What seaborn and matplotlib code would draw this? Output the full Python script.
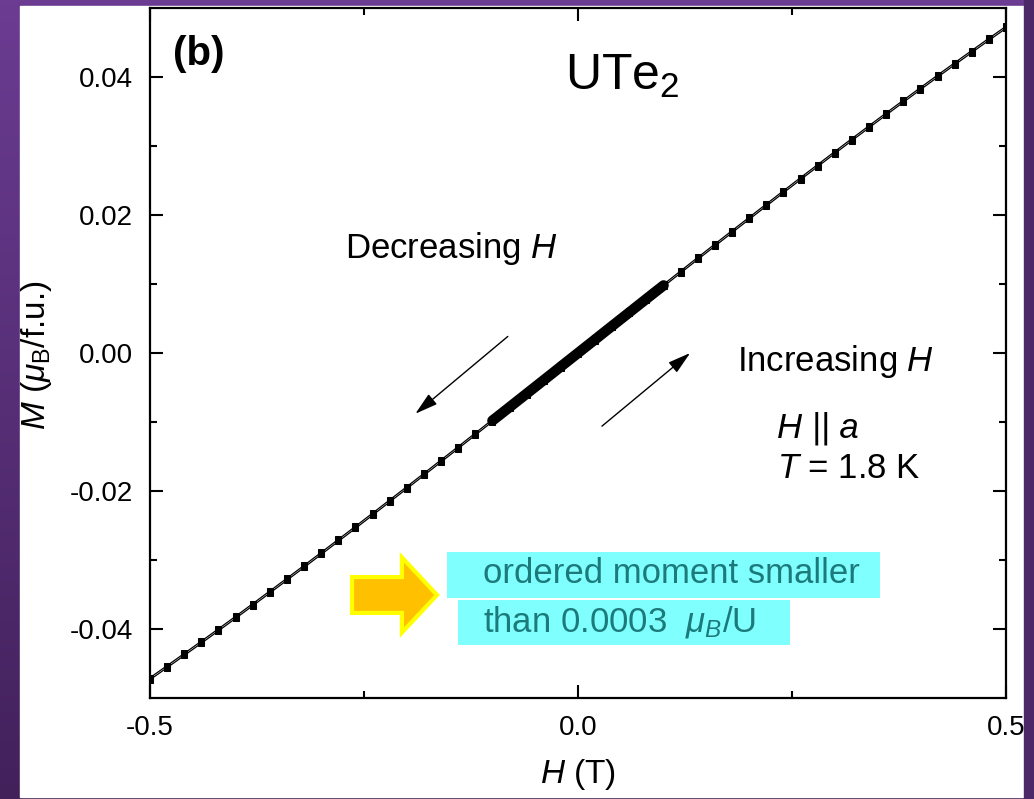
import numpy as np
import seaborn as sns
from matplotlib import pyplot as plt
from matplotlib import patches
from matplotlib.colors import LinearSegmentedColormap
from matplotlib.ticker import FixedLocator, FormatStrFormatter

# field grid (T) and the two sweeps of M (muB/f.u.)
H_sweep = [-0.50, -0.48, -0.46, -0.44, -0.42, -0.40, -0.38, -0.36, -0.34, -0.32,
           -0.30, -0.28, -0.26, -0.24, -0.22, -0.20, -0.18, -0.16, -0.14, -0.12,
           -0.10, -0.08, -0.06, -0.04, -0.02, 0.00, 0.02, 0.04, 0.06, 0.08,
           0.10, 0.12, 0.14, 0.16, 0.18, 0.20, 0.22, 0.24, 0.26, 0.28,
           0.30, 0.32, 0.34, 0.36, 0.38, 0.40, 0.42, 0.44, 0.46, 0.48, 0.50]
M_decreasing = [-0.04705, -0.04531, -0.04354, -0.04176, -0.03997, -0.03816, -0.03633, -0.03449, -0.03264, -0.03078,
                -0.02890, -0.02701, -0.02512, -0.02321, -0.02129, -0.01937, -0.01744, -0.01550, -0.01356, -0.01161,
                -0.00965, -0.00770, -0.00574, -0.00378, -0.00181, 0.00015, 0.00211, 0.00408, 0.00604, 0.00800,
                0.00995, 0.01191, 0.01386, 0.01580, 0.01774, 0.01967, 0.02159, 0.02351, 0.02542, 0.02731,
                0.02920, 0.03108, 0.03294, 0.03479, 0.03663, 0.03846, 0.04027, 0.04206, 0.04384, 0.04561, 0.04735]
M_increasing = [-0.04735, -0.04561, -0.04384, -0.04206, -0.04027, -0.03846, -0.03663, -0.03479, -0.03294, -0.03108,
                -0.02920, -0.02731, -0.02542, -0.02351, -0.02159, -0.01967, -0.01774, -0.01580, -0.01386, -0.01191,
                -0.00995, -0.00800, -0.00604, -0.00408, -0.00211, -0.00015, 0.00181, 0.00378, 0.00574, 0.00770,
                0.00965, 0.01161, 0.01356, 0.01550, 0.01744, 0.01937, 0.02129, 0.02321, 0.02512, 0.02701,
                0.02890, 0.03078, 0.03264, 0.03449, 0.03633, 0.03816, 0.03997, 0.04176, 0.04354, 0.04531, 0.04705]

# dense low-field data
H_low = [-0.10, -0.09, -0.08, -0.07, -0.06, -0.05, -0.04, -0.03, -0.02, -0.01, 0.00,
         0.01, 0.02, 0.03, 0.04, 0.05, 0.06, 0.07, 0.08, 0.09, 0.10]
M_low = [-0.00980, -0.00883, -0.00785, -0.00687, -0.00589, -0.00491, -0.00393, -0.00295, -0.00196, -0.00098, 0.00000,
         0.00098, 0.00196, 0.00295, 0.00393, 0.00491, 0.00589, 0.00687, 0.00785, 0.00883, 0.00980]

x_major = [-0.5, 0.0, 0.5]
x_minor = [-0.25, 0.25]
y_major = [-0.04, -0.02, 0.00, 0.02, 0.04]
y_minor = [-0.03, -0.01, 0.01, 0.03]

sns.set_theme(style="ticks")
plt.rcParams["font.family"] = ["Liberation Sans", "DejaVu Sans"]
plt.rcParams["mathtext.fontset"] = "custom"
plt.rcParams["mathtext.rm"] = "Liberation Sans"
plt.rcParams["mathtext.it"] = "Liberation Sans:italic"
plt.rcParams["mathtext.bf"] = "Liberation Sans:bold"
plt.rcParams["axes.unicode_minus"] = False
plt.rcParams["text.color"] = "black"
plt.rcParams["axes.labelcolor"] = "black"
plt.rcParams["xtick.color"] = "black"
plt.rcParams["ytick.color"] = "black"

fig = plt.figure(figsize=(10.34, 7.99), dpi=100)

# purple slide background with white panel
bg = fig.add_axes([0, 0, 1, 1], zorder=-10)
bg.axis("off")
purple = LinearSegmentedColormap.from_list("purple", ["#6b3c92", "#42215b"])
bg.imshow(np.linspace(0, 1, 256).reshape(-1, 1), cmap=purple, aspect="auto", extent=[0, 1, 0, 1])
bg.add_patch(patches.Rectangle((20 / 1034, 2 / 799), 1004 / 1034, 791 / 799, color="white", transform=bg.transAxes))
bg.set_xlim(0, 1)
bg.set_ylim(0, 1)

ax = fig.add_axes([150 / 1034, 1 - 698 / 799, 856 / 1034, 690 / 799])
ax.set_facecolor("white")

line_kw = dict(color="black", linewidth=0.9, marker="s", markersize=4.5,
               markeredgecolor="black", markerfacecolor="black")
sns.lineplot(x=H_sweep, y=M_decreasing, ax=ax, **line_kw)
sns.lineplot(x=H_sweep, y=M_increasing, ax=ax, **line_kw)
sns.lineplot(x=H_low, y=M_low, ax=ax, color="black", linewidth=7.5)

ax.set_xlim(-0.5, 0.5)
ax.set_ylim(-0.05, 0.05)
ax.xaxis.set_major_locator(FixedLocator(x_major))
ax.xaxis.set_minor_locator(FixedLocator(x_minor))
ax.yaxis.set_major_locator(FixedLocator(y_major))
ax.yaxis.set_minor_locator(FixedLocator(y_minor))
ax.xaxis.set_major_formatter(FormatStrFormatter("%.1f"))
ax.yaxis.set_major_formatter(FormatStrFormatter("%.2f"))
ax.tick_params(which="both", direction="in", top=True, right=True, width=1.5, color="black")
ax.tick_params(which="major", length=9.5, labelsize=20, pad=12)
ax.tick_params(which="minor", length=5)
for sp in ax.spines.values():
    sp.set_linewidth(1.6)
    sp.set_color("black")

ax.set_xlabel(r"$H$ (T)", fontsize=24)
ax.set_ylabel(r"$M$ ($\mu_{\rm B}$/f.u.)", fontsize=24)
ax.xaxis.set_label_coords(0.5, -0.085)
ax.yaxis.set_label_coords(-0.112, 0.497)

# annotations
ax.text(-0.473, 0.0433, "(b)", fontsize=29, fontweight="bold", ha="left", va="center")
ax.text(-0.015, 0.0381, r"UTe$_2$", fontsize=36, ha="left", va="baseline")
ax.text(-0.272, 0.0138, r"Decreasing $H$", fontsize=25, ha="left", va="baseline")
ax.text(0.186, -0.0026, r"Increasing $H$", fontsize=25, ha="left", va="baseline")
ax.text(0.233, -0.0122, "H || a", fontsize=25, style="italic", ha="left", va="baseline")
ax.text(0.233, -0.0181, r"$T$ = 1.8 K", fontsize=25, ha="left", va="baseline")

arrow_kw = dict(arrowstyle="-|>,head_length=0.7,head_width=0.2", color="black", lw=1.0,
                shrinkA=0, shrinkB=0, mutation_scale=20)
ax.annotate("", xy=(-0.190, -0.0088), xytext=(-0.082, 0.0024), arrowprops=arrow_kw)
ax.annotate("", xy=(0.131, 0.0), xytext=(0.028, -0.0106), arrowprops=arrow_kw)

# highlighted note
cyan = "#80ffff"
ax.add_patch(patches.Rectangle((-0.153, -0.0355), 0.506, 0.0067, color=cyan, lw=0, zorder=1))
ax.add_patch(patches.Rectangle((-0.140, -0.0423), 0.388, 0.0065, color=cyan, lw=0, zorder=1))
teal = "#1c7a7b"
ax.text(-0.111, -0.0333, "ordered moment smaller", fontsize=25, color=teal, ha="left", va="baseline", zorder=2)
ax.text(-0.111, -0.0403, r"than 0.0003  $\mu_B$/U", fontsize=25, color=teal, ha="left", va="baseline", zorder=2)
ax.add_patch(patches.FancyArrow(-0.264, -0.03507, 0.0993, 0, width=0.0052, head_width=0.0109,
                                head_length=0.041, length_includes_head=True,
                                facecolor="#ffc000", edgecolor="#ffff00", lw=3, zorder=2))

# purple edge on the right covers part of the last tick label
fig.add_artist(patches.Rectangle((1024 / 1034, 0), 10 / 1034, 1, color="#4d2868",
                                 transform=fig.transFigure, zorder=10))

fig.savefig("out.png", dpi=100)
